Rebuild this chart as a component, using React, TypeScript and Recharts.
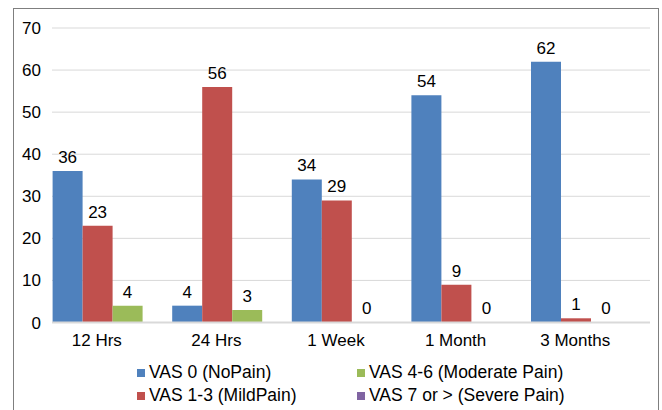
import React from "react";
import {
  BarChart,
  Bar,
  XAxis,
  YAxis,
  CartesianGrid,
  Legend,
  LabelList
} from "recharts";

const categories = ["12 Hrs", "24 Hrs", "1 Week", "1 Month", "3 Months"];
const noPain = [36, 4, 34, 54, 62];
const mildPain = [23, 56, 29, 9, 1];
const moderatePain = [4, 3, 0, 0, 0];
const severePain = [0, 0, 0, 0, 0];
const yTicks = [0, 10, 20, 30, 40, 50, 60, 70];

const seriesNames = {
  noPain: "VAS 0 (NoPain)",
  mildPain: "VAS 1-3 (MildPain)",
  moderatePain: "VAS 4-6 (Moderate Pain)",
  severePain: "VAS 7 or > (Severe Pain)"
};

const colors = {
  noPain: "#4f81bd",
  mildPain: "#c0504d",
  moderatePain: "#9bbb59",
  severePain: "#8064a2"
};

const FONT = "'Liberation Sans', Arial, sans-serif";

const data = categories.map((name, i) => ({
  name,
  noPain: noPain[i],
  mildPain: mildPain[i],
  moderatePain: moderatePain[i],
  severePain: severePain[i]
}));

// category labels sit under the three visible bars, not the whole band
const CategoryTick = ({ x, y, payload }: any) => (
  <text
    x={x - 15}
    y={y}
    dy="0.71em"
    textAnchor="middle"
    fill="#000"
    fontSize={17}
    fontFamily={FONT}
  >
    {payload.value}
  </text>
);

// value label above each bar, zeros included
const renderValue = (props: any) => {
  const { x, y, width, value } = props;
  if (value === null || value === undefined) return null;
  return (
    <text
      x={Number(x) + Number(width) / 2}
      y={Number(y) - 8}
      textAnchor="middle"
      fill="#000"
      fontSize={17}
      fontFamily={FONT}
    >
      {String(value)}
    </text>
  );
};

const LegendItem = ({ color, label }: { color: string; label: string }) => (
  <div style={{ display: "flex", alignItems: "center", height: 23 }}>
    <span
      style={{
        display: "inline-block",
        width: 8,
        height: 8,
        background: color,
        marginRight: 4
      }}
    />
    <span style={{ fontSize: 17.5, color: "#000", whiteSpace: "nowrap" }}>
      {label}
    </span>
  </div>
);

const ChartLegend = () => (
  <div
    style={{
      position: "relative",
      height: 50,
      fontFamily: FONT
    }}
  >
    <div style={{ position: "absolute", left: 137, top: 1 }}>
      <LegendItem color={colors.noPain} label={seriesNames.noPain} />
      <LegendItem color={colors.mildPain} label={seriesNames.mildPain} />
    </div>
    <div style={{ position: "absolute", left: 357, top: 1 }}>
      <LegendItem color={colors.moderatePain} label={seriesNames.moderatePain} />
      <LegendItem color={colors.severePain} label={seriesNames.severePain} />
    </div>
  </div>
);

export default function App() {
  return (
    <div
      style={{
        position: "fixed",
        left: 0,
        top: 0,
        width: 662,
        height: 410,
        overflow: "hidden",
        background: "#fff",
        fontFamily: FONT
      }}
    >
      <div
        style={{
          position: "absolute",
          left: 13,
          top: 8,
          width: 644,
          height: 420,
          border: "1.5px solid #7f7f7f"
        }}
      />
      <div style={{ position: "absolute", left: 0, top: 0 }}>
        <BarChart
          width={662}
          height={410}
          data={data}
          margin={{ top: 28, right: 12, bottom: 0, left: 12 }}
          barCategoryGap={0.6}
          barGap={0}
        >
          <CartesianGrid vertical={false} stroke="#d9d9d9" />
          <XAxis
            dataKey="name"
            height={37.5}
            tickLine={false}
            tickSize={0}
            tickMargin={11}
            axisLine={{ stroke: "#d9d9d9", strokeWidth: 2 }}
            tick={<CategoryTick />}
            interval={0}
          />
          <YAxis
            width={40}
            domain={[0, 70]}
            ticks={yTicks}
            axisLine={false}
            tickLine={false}
            tickSize={0}
            tickMargin={11}
            tick={{ fill: "#000", fontSize: 17, fontFamily: FONT }}
          />
          <Legend
            verticalAlign="bottom"
            content={<ChartLegend />}
            wrapperStyle={{ left: 0, width: 662 }}
          />
          <Bar dataKey="noPain" name={seriesNames.noPain} fill={colors.noPain} isAnimationActive={false}>
            <LabelList dataKey="noPain" content={renderValue} />
          </Bar>
          <Bar dataKey="mildPain" name={seriesNames.mildPain} fill={colors.mildPain} isAnimationActive={false}>
            <LabelList dataKey="mildPain" content={renderValue} />
          </Bar>
          <Bar
            dataKey="moderatePain"
            name={seriesNames.moderatePain}
            fill={colors.moderatePain}
            minPointSize={0.01}
            isAnimationActive={false}
          >
            <LabelList dataKey="moderatePain" content={renderValue} />
          </Bar>
          <Bar dataKey="severePain" name={seriesNames.severePain} fill={colors.severePain} isAnimationActive={false} />
        </BarChart>
      </div>
    </div>
  );
}
